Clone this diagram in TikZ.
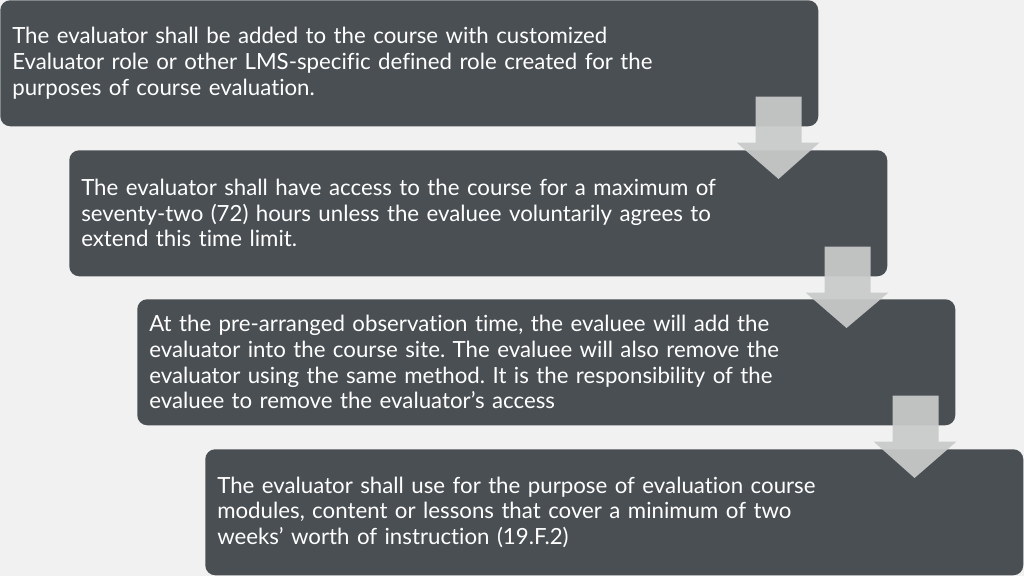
\documentclass[tikz,border=0pt]{standalone}
\usepackage{fontspec}
\setmainfont{Lato}[Ligatures=NoCommon]
\frenchspacing
\definecolor{bg}{HTML}{F1F1F1}
\definecolor{boxc}{HTML}{4A4F53}
\definecolor{arrc}{HTML}{C9CBCB}
\begin{document}
\begin{tikzpicture}[x=0.75pt,y=-0.75pt,
  stepbox/.style={draw=none,fill=boxc,rounded corners=7.5pt,anchor=north west,
    text=white,align=left,text width=595.5pt,inner xsep=9pt,inner ysep=0pt,
    minimum height=94.5pt,font=\fontsize{16.7}{19.2}\selectfont},
  blockarrow/.style={fill=arrc,fill opacity=0.93,draw=none}]
\fill[bg] (0,0) rectangle (1024,576);
\useasboundingbox (0,0) rectangle (1024,576);
\node[stepbox] (b1) at (0,0) {The evaluator shall be added to the course with customized\\Evaluator role or other LMS-specific defined role created for the\\purposes of course evaluation.};
\node[stepbox] (b2) at (69,150) {The evaluator shall have access to the course for a maximum of\\seventy-two (72) hours unless the evaluee voluntarily agrees to\\extend this time limit.};
\node[stepbox] (b3) at (137,299) {At the pre-arranged observation time, the evaluee will add the\\evaluator into the course site. The evaluee will also remove the\\evaluator using the same method. It is the responsibility of the\\evaluee to remove the evaluator’s access};
\node[stepbox] (b4) at (205,449) {The evaluator shall use for the purpose of evaluation course\\modules, content or lessons that cover a minimum of two\\weeks’ worth of instruction (19.F.2)};
\foreach \a/\b in {b1/b2,b2/b3,b3/b4}{
  \path (\a.south east) ++(-63,-30) coordinate (s1)
        (\a.south east) ++(-17,-30) coordinate (s2)
        (\a.south east) ++(-17,16) coordinate (s3)
        (\a.south east) ++(1,16) coordinate (h1)
        (\b.north east) ++(-109,29) coordinate (tip)
        (\a.south east) ++(-82,16) coordinate (h2)
        (\a.south east) ++(-63,16) coordinate (s4);
  \fill[blockarrow] (s1) -- (s2) -- (s3) -- (h1) -- (tip) -- (h2) -- (s4) -- cycle;
}
\end{tikzpicture}
\end{document}
